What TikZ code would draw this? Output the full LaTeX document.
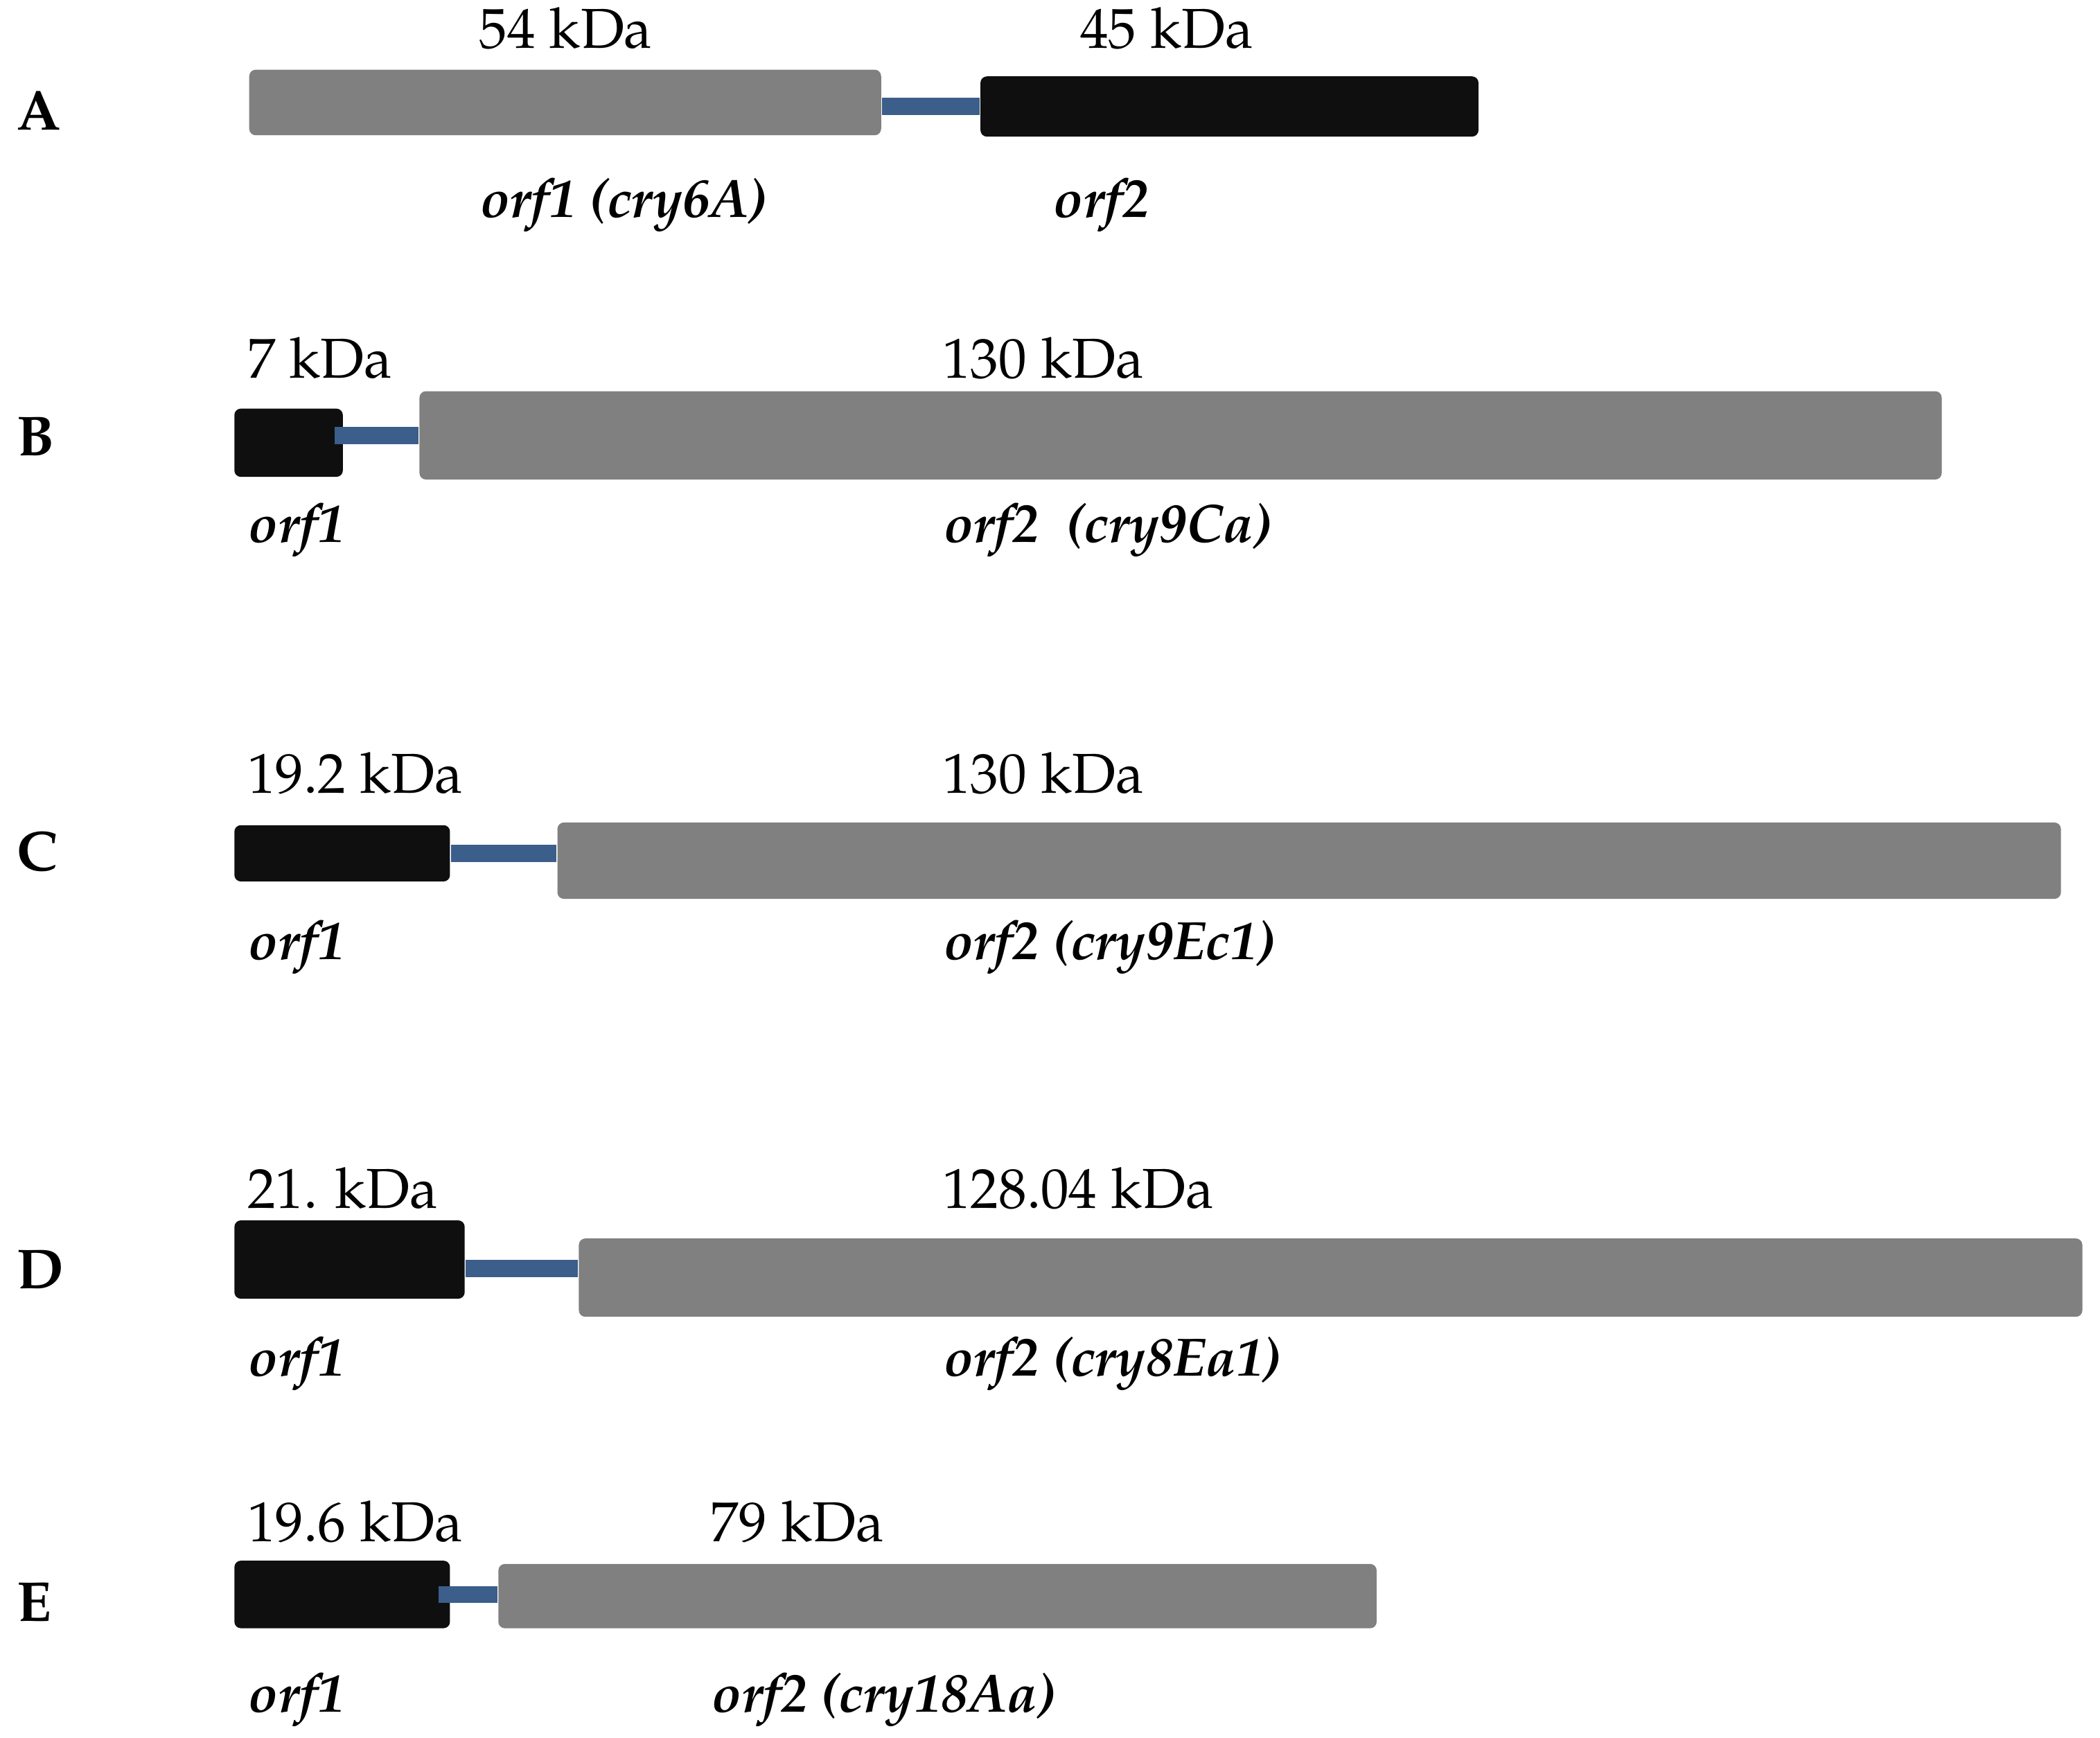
\documentclass[tikz,border=0pt]{standalone}
\usepackage[T1]{fontenc}
\usepackage{mathpazo}
\usepackage{tikz}
\usetikzlibrary{calc}
\definecolor{orfgray}{HTML}{808080}
\definecolor{orfblack}{HTML}{0F0F0F}
\definecolor{linkblue}{HTML}{3B5E8A}

\begin{document}
\begin{tikzpicture}[x=0.010204cm,y=-0.010204cm,
  gray box/.style={rectangle,fill=orfgray,rounded corners=1.4pt,inner sep=0pt},
  black box/.style={rectangle,fill=orfblack,rounded corners=1.4pt,inner sep=0pt},
  link/.style={draw=linkblue,line width=3.7pt},
  row label/.style={anchor=base west,inner sep=0pt,font=\fontsize{12.2}{14}\selectfont\bfseries},
  size label/.style={anchor=base west,inner sep=0pt,font=\fontsize{12.2}{14}\selectfont},
  gene label/.style={anchor=base west,inner sep=0pt,font=\fontsize{11.7}{14}\selectfont\bfseries\itshape}]

\useasboundingbox (0,0) rectangle (1568,1297);

% A
\node[row label] (ra) at (12,97) {A};
\node[gray box,minimum width=4.816cm,minimum height=0.5cm] (a1) at (422,76.5) {};
\node[black box,minimum width=3.796cm,minimum height=0.459cm] (a2) at (918,79.5) {};
\draw[link] (a1.east |- a2.west) -- (a2.west);
\node[size label] (ka1) at (357,36) {54 kDa};
\node[size label] (ka2) at (806,36) {45 kDa};
\node[gene label] (ga1) at (358,162) {orf1 (cry6A)};
\node[gene label] (ga2) at (786,162) {orf2};

% B
\node[row label] (rb) at (12,340) {B};
\node[black box,minimum width=0.827cm,minimum height=0.520cm] (b1) at (215.5,330.5) {};
\node[gray box,minimum width=11.602cm,minimum height=0.673cm] (b2) at (881.5,325) {};
\draw[link,shorten <=-2pt] (b1.east |- b2.west) -- (b2.west);
\node[size label] (kb1) at (184,282) {7 kDa};
\node[size label] (kb2) at (703,282) {130 kDa};
\node[gene label] (gb1) at (185,405) {orf1};
\node[gene label] (gb2) at (704,405) {orf2~~(cry9Ca)};

% C
\node[row label] (rc) at (12,650) {C};
\node[black box,minimum width=1.643cm,minimum height=0.429cm] (c1) at (255.5,637) {};
\node[gray box,minimum width=11.459cm,minimum height=0.582cm] (c2) at (977.5,642.5) {};
\draw[link] (c1.east) -- (c1.east -| c2.west);
\node[size label] (kc1) at (184,592) {19.2 kDa};
\node[size label] (kc2) at (703,592) {130 kDa};
\node[gene label] (gc1) at (185,716) {orf1};
\node[gene label] (gc2) at (704,716) {orf2 (cry9Ec1)};

% D
\node[row label] (rd) at (12,962) {D};
\node[black box,minimum width=1.755cm,minimum height=0.597cm] (d1) at (261,940.25) {};
\node[gray box,minimum width=11.459cm,minimum height=0.597cm] (d2) at (993.5,953.75) {};
\coordinate (dm) at ($(d1.east)!.5!(d2.west)$);
\draw[link] (d1.east |- dm) -- (d2.west |- dm);
\node[size label] (kd1) at (184,902) {21. kDa};
\node[size label] (kd2) at (703,902) {128.04 kDa};
\node[gene label] (gd1) at (185,1027) {orf1};
\node[gene label] (gd2) at (704,1027) {orf2 (cry8Ea1)};

% E
\node[row label] (re) at (12,1210) {E};
\node[black box,minimum width=1.643cm,minimum height=0.515cm] (e1) at (255.5,1190.25) {};
\node[gray box,minimum width=6.694cm,minimum height=0.49cm] (e2) at (700,1191.5) {};
\draw[link,shorten <=-2.6pt] (e1.east) -- (e1.east -| e2.west);
\node[size label] (ke1) at (184,1151) {19.6 kDa};
\node[size label] (ke2) at (530,1151) {79 kDa};
\node[gene label] (ge1) at (185,1278) {orf1};
\node[gene label] (ge2) at (531,1278) {orf2 (cry18Aa)};

\end{tikzpicture}
\end{document}
